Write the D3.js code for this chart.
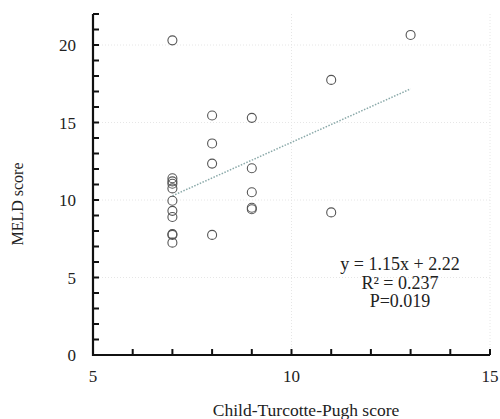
<!DOCTYPE html>
<html>
<head>
<meta charset="utf-8">
<script src="https://cdn.jsdelivr.net/npm/d3@7/dist/d3.min.js"></script>
<style>
  body { margin: 0; background: #fff; }
  svg text { font-family: "Liberation Serif", "DejaVu Serif", serif; fill: #222; }
</style>
</head>
<body>
<div id="chart"></div>
<script>
// Child-Turcotte-Pugh vs MELD scatter
const ctpScore = [7, 7, 7, 7, 7, 7, 7, 7, 7, 7, 7,
                  8, 8, 8, 8,
                  9, 9, 9, 9, 9,
                  11, 11,
                  13];
const meldScore = [20.3, 11.4, 11.2, 11.05, 10.75, 9.95, 9.3, 8.9, 7.8, 7.75, 7.25,
                   15.45, 13.65, 12.35, 7.75,
                   15.3, 12.05, 10.5, 9.5, 9.4,
                   17.75, 9.2,
                   20.65];
const xTicks = [5, 10, 15];
const yTicks = [0, 5, 10, 15, 20];
const fitSlope = 1.15, fitIntercept = 2.22;
const statLines = ["y = 1.15x + 2.22", "R² = 0.237", "P=0.019"];

const width = 500, height = 419;
const svg = d3.select("#chart").append("svg")
  .attr("width", width)
  .attr("height", height);

const x = d3.scaleLinear().domain([5, 15]).range([93, 490]);
const y = d3.scaleLinear().domain([0, 22]).range([355, 14]);

// faint dotted grid (barely visible in the scan)
svg.append("g").selectAll("line")
  .data([10, 15])
  .join("line")
  .attr("x1", d => x(d)).attr("x2", d => x(d))
  .attr("y1", y(22)).attr("y2", y(0))
  .attr("stroke", "#e6e6e6").attr("stroke-dasharray", "1,2");
svg.append("g").selectAll("line")
  .data([5, 10, 15, 20])
  .join("line")
  .attr("x1", x(5)).attr("x2", x(15))
  .attr("y1", d => y(d)).attr("y2", d => y(d))
  .attr("stroke", "#e6e6e6").attr("stroke-dasharray", "1,2");

// minor ticks every unit, pointing into the plot
svg.append("g").selectAll("line")
  .data(x.ticks(10))
  .join("line")
  .attr("x1", d => x(d)).attr("x2", d => x(d))
  .attr("y1", y(0)).attr("y2", y(0) - 6)
  .attr("stroke", "#111").attr("stroke-width", 2);
svg.append("g").selectAll("line")
  .data(d3.range(0, 23))
  .join("line")
  .attr("x1", x(5)).attr("x2", x(5) + 6)
  .attr("y1", d => y(d)).attr("y2", d => y(d))
  .attr("stroke", "#111").attr("stroke-width", 2);

// axis lines
svg.append("path")
  .attr("d", `M${x(5)},${y(22)}V${y(0)}H${x(15)}`)
  .attr("fill", "none")
  .attr("stroke", "#111")
  .attr("stroke-width", 2.2);

// tick labels
svg.append("g").selectAll("text")
  .data(xTicks)
  .join("text")
  .attr("x", d => x(d))
  .attr("y", 382)
  .attr("text-anchor", "middle")
  .style("font-size", "17px")
  .text(d => d);
svg.append("g").selectAll("text")
  .data(yTicks)
  .join("text")
  .attr("x", 76)
  .attr("y", d => y(d) + 6)
  .attr("text-anchor", "end")
  .style("font-size", "17px")
  .text(d => d);

// axis titles
svg.append("text")
  .attr("x", 306).attr("y", 416)
  .attr("text-anchor", "middle")
  .style("font-size", "17.5px")
  .text("Child-Turcotte-Pugh score");
svg.append("text")
  .attr("transform", "translate(23,204) rotate(-90)")
  .attr("text-anchor", "middle")
  .style("font-size", "16px")
  .text("MELD score");

// trend line
svg.append("line")
  .attr("x1", x(7)).attr("y1", y(fitSlope * 7 + fitIntercept))
  .attr("x2", x(13)).attr("y2", y(fitSlope * 13 + fitIntercept))
  .attr("stroke", "#8aa9a9")
  .attr("stroke-width", 1.5)
  .attr("stroke-dasharray", "1.5,1.5");

// points
svg.append("g").selectAll("circle")
  .data(d3.zip(ctpScore, meldScore))
  .join("circle")
  .attr("cx", d => x(d[0]))
  .attr("cy", d => y(d[1]))
  .attr("r", 4.5)
  .attr("fill", "none")
  .attr("stroke", "#555")
  .attr("stroke-width", 1.1);

// regression stats
svg.append("g").selectAll("text")
  .data(statLines)
  .join("text")
  .attr("x", 400)
  .attr("y", (d, i) => 270 + i * 18.5)
  .attr("text-anchor", "middle")
  .style("font-size", "18px")
  .text(d => d);
</script>
</body>
</html>
